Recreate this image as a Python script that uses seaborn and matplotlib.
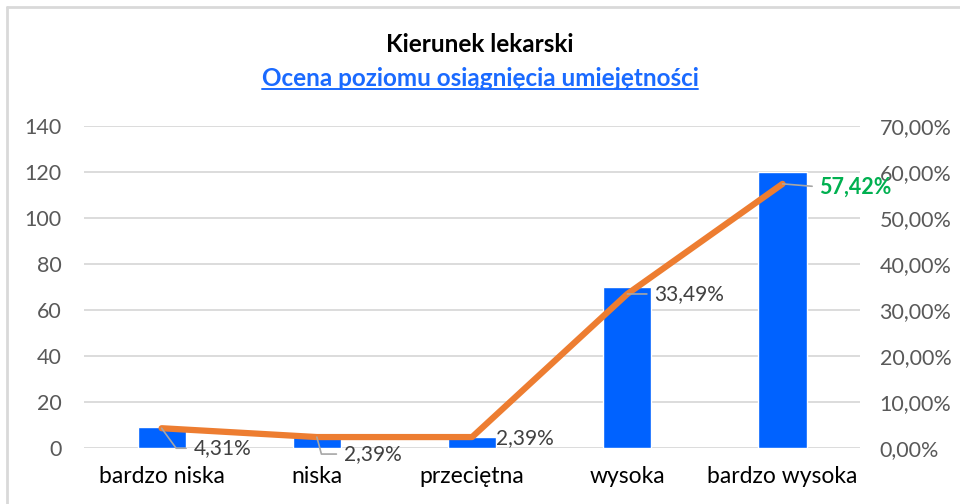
import matplotlib
matplotlib.use('Agg')
import matplotlib.pyplot as plt
from matplotlib.lines import Line2D
from matplotlib.ticker import FuncFormatter
import numpy as np
import pandas as pd
import seaborn as sns

sns.set_theme(style="white")
plt.rcParams['font.family'] = ['Lato', 'DejaVu Sans']

categories = ['bardzo niska', 'niska', 'przeciętna', 'wysoka', 'bardzo wysoka']
counts = [9, 5, 5, 70, 120]
shares = [0.0431, 0.0239, 0.0239, 0.3349, 0.5742]
share_labels = ['4,31%', '2,39%', '2,39%', '33,49%', '57,42%']
# label offsets (pixels) from each line point, and whether to draw a leader line
label_offsets = [(32, -20), (27, -17), (24, -1), (27, 0), (37, -3)]
leader_angles = [-54, -75, None, 0, 0]

df = pd.DataFrame({'kat': categories, 'n': counts, 'pct': shares,
                   'pos': np.arange(len(categories))})

fig = plt.figure(figsize=(9.6, 5.04), dpi=100)
ax = fig.add_axes([0.0875, 0.111, 0.8085, 0.639])

sns.barplot(data=df, x='kat', y='n', color='#0062FF', saturation=1,
            width=0.31, ax=ax)
ax.set_ylim(0, 140)
ax.set_yticks(range(0, 141, 20))
ax.set_xlim(-0.5, len(categories) - 0.5)
ax.grid(axis='y', color='#D9D9D9', lw=1.3)
ax.set_axisbelow(True)
ax.set_xlabel('')
ax.set_ylabel('')
for s in ax.spines.values():
    s.set_visible(False)
ax.tick_params(axis='y', labelsize=15.5, labelcolor='#595959', length=0, pad=16)
ax.tick_params(axis='x', labelsize=16.5, labelcolor='black', length=0, pad=13)

ax2 = ax.twinx()
sns.lineplot(data=df, x='pos', y='pct', color='#ED7D31', lw=4.5, ax=ax2,
             solid_capstyle='round')
ax2.set_ylim(0, 0.7)
ax2.set_yticks(np.arange(0, 0.71, 0.1))
ax2.yaxis.set_major_formatter(FuncFormatter(lambda v, p: f'{v*100:.2f}%'.replace('.', ',')))
ax2.tick_params(axis='y', labelsize=15.5, labelcolor='#595959', length=0, pad=14)
ax2.set_ylabel('')
ax2.set_xlabel('')
ax2.set_xlim(-0.5, len(categories) - 0.5)
for s in ax2.spines.values():
    s.set_visible(False)

for i, (lab, off, ang) in enumerate(zip(share_labels, label_offsets, leader_angles)):
    last = i == len(categories) - 1
    kw = dict(textcoords='offset pixels', xytext=off, ha='left', va='center',
              fontsize=15.5 if last else 15,
              color='#00B050' if last else '#404040',
              fontweight='bold' if last else 'normal')
    if ang is not None:
        cs = 'arc3' if ang == 0 else f'angle,angleA=0,angleB={ang},rad=0'
        kw['arrowprops'] = dict(arrowstyle='-', color='#A6A6A6', lw=1.2,
                                shrinkA=3, shrinkB=0, relpos=(0, 0.5),
                                connectionstyle=cs)
    ax2.annotate(lab, xy=(df['pos'][i], shares[i]), **kw)

fig.text(0.5, 0.911, 'Kierunek lekarski', ha='center', va='center',
         fontsize=17.5, fontweight='bold', color='black')
sub = fig.text(0.5, 0.845, 'Ocena poziomu osiągnięcia umiejętności', ha='center',
               va='center', fontsize=17.5, fontweight='bold', color='#1A6AFF')

# underline for the subtitle
fig.canvas.draw()
bb = sub.get_window_extent().transformed(fig.transFigure.inverted())
fig.add_artist(Line2D([bb.x0, bb.x1], [bb.y0 + 0.002, bb.y0 + 0.002],
                      color='#1A6AFF', lw=1.4, transform=fig.transFigure))

# chart frame
fig.add_artist(Line2D([0.0073, 1.0], [0.986, 0.986], color='#D9D9D9', lw=2,
                      transform=fig.transFigure))
fig.add_artist(Line2D([0.0073, 0.0073], [0.0, 0.986], color='#D9D9D9', lw=2,
                      transform=fig.transFigure))

fig.savefig('out.png', dpi=100)
